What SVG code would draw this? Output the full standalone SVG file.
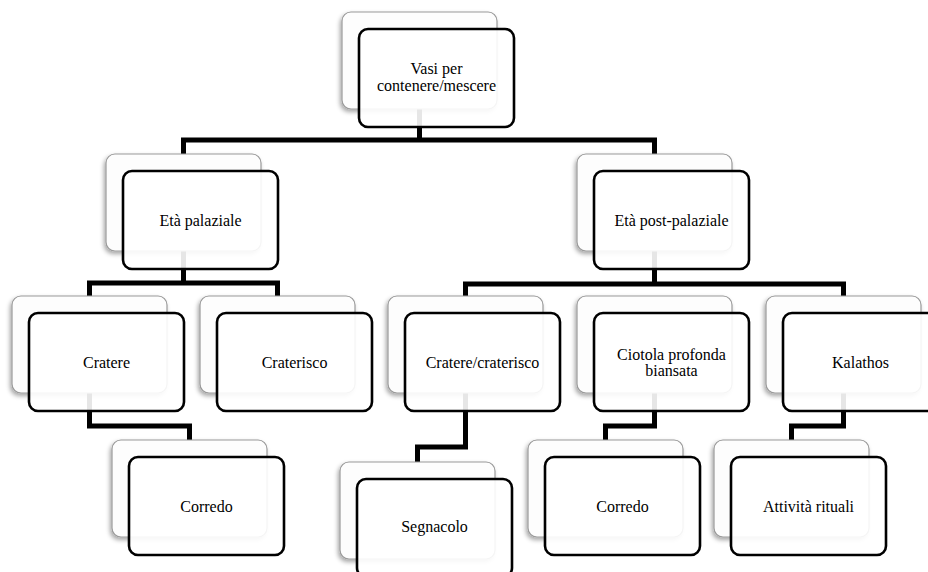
<svg xmlns="http://www.w3.org/2000/svg" width="928" height="572" viewBox="0 0 928 572">
<defs>
<filter id="sh" x="-10%" y="-10%" width="120%" height="125%">
<feDropShadow dx="-1.5" dy="2.5" stdDeviation="2" flood-color="#000" flood-opacity="0.35"/>
</filter>
<style>
.back{fill:#fdfdfd;stroke:#9a9a9a;stroke-width:1.2;filter:url(#sh)}
.front{fill:#ffffff;fill-opacity:0.9;stroke:#000;stroke-width:2.6}
.t{font-size:16px;fill:#000;text-anchor:middle}
.c{fill:none;stroke:#000;stroke-width:5;stroke-linecap:square;stroke-linejoin:miter}
</style>
</defs>
<rect width="928" height="572" fill="#fff"/>
<g id="connectors">
<path class="c" d="M419.5 109V140M183.5 153V140H654.5V153"/>
<path class="c" d="M183.5 251V283M89.5 295V283H277.5V295"/>
<path class="c" d="M654.5 251V284M465.5 295V284H843.5V295"/>
<path class="c" d="M89.5 393V426H189.5V439"/>
<path class="c" d="M465.5 393V447H417.5V461"/>
<path class="c" d="M654.5 393V426H605.5V439"/>
<path class="c" d="M843.5 393V426H791.5V439"/>
</g>
<g font-family="'Liberation Serif', 'Times New Roman', Times, serif">
<g id="n-root">
<rect class="back" x="342" y="12" width="155" height="97" rx="9"/>
<rect class="front" x="359" y="29" width="155" height="98" rx="9"/>
<text class="t" x="436.5" y="74">Vasi per</text>
<text class="t" x="436.5" y="91">contenere/mescere</text>
</g>
<g id="n-palaziale">
<rect class="back" x="106" y="154" width="155" height="97" rx="9"/>
<rect class="front" x="123" y="171" width="155" height="98" rx="9"/>
<text class="t" x="200.5" y="225.5">Età palaziale</text>
</g>
<g id="n-postpalaziale">
<rect class="back" x="577" y="154" width="155" height="97" rx="9"/>
<rect class="front" x="594" y="171" width="155" height="98" rx="9"/>
<text class="t" x="671.5" y="225.5">Età post-palaziale</text>
</g>
<g id="n-cratere">
<rect class="back" x="12" y="296" width="155" height="97" rx="9"/>
<rect class="front" x="29" y="313" width="155" height="98" rx="9"/>
<text class="t" x="106.5" y="368">Cratere</text>
</g>
<g id="n-craterisco">
<rect class="back" x="200" y="296" width="155" height="97" rx="9"/>
<rect class="front" x="217" y="313" width="155" height="98" rx="9"/>
<text class="t" x="294.5" y="368">Craterisco</text>
</g>
<g id="n-cratere-craterisco">
<rect class="back" x="388" y="296" width="155" height="97" rx="9"/>
<rect class="front" x="405" y="313" width="155" height="98" rx="9"/>
<text class="t" x="482.5" y="368">Cratere/craterisco</text>
</g>
<g id="n-ciotola">
<rect class="back" x="577" y="296" width="155" height="97" rx="9"/>
<rect class="front" x="594" y="313" width="155" height="98" rx="9"/>
<text class="t" x="671.5" y="360">Ciotola profonda</text>
<text class="t" x="671.5" y="376">biansata</text>
</g>
<g id="n-kalathos">
<rect class="back" x="766" y="296" width="155" height="97" rx="9"/>
<rect class="front" x="783" y="313" width="155" height="98" rx="9"/>
<text class="t" x="860.5" y="368">Kalathos</text>
</g>
<g id="n-corredo1">
<rect class="back" x="112" y="440" width="155" height="97" rx="9"/>
<rect class="front" x="129" y="457" width="155" height="98" rx="9"/>
<text class="t" x="206.5" y="511.5">Corredo</text>
</g>
<g id="n-segnacolo">
<rect class="back" x="340" y="462" width="155" height="97" rx="9"/>
<rect class="front" x="357" y="479" width="155" height="98" rx="9"/>
<text class="t" x="434.5" y="532">Segnacolo</text>
</g>
<g id="n-corredo2">
<rect class="back" x="528" y="440" width="155" height="97" rx="9"/>
<rect class="front" x="545" y="457" width="155" height="98" rx="9"/>
<text class="t" x="622.5" y="511.5">Corredo</text>
</g>
<g id="n-attivita">
<rect class="back" x="714" y="440" width="155" height="97" rx="9"/>
<rect class="front" x="731" y="457" width="155" height="98" rx="9"/>
<text class="t" x="808.5" y="511.5">Attività rituali</text>
</g>
</g>
</svg>
